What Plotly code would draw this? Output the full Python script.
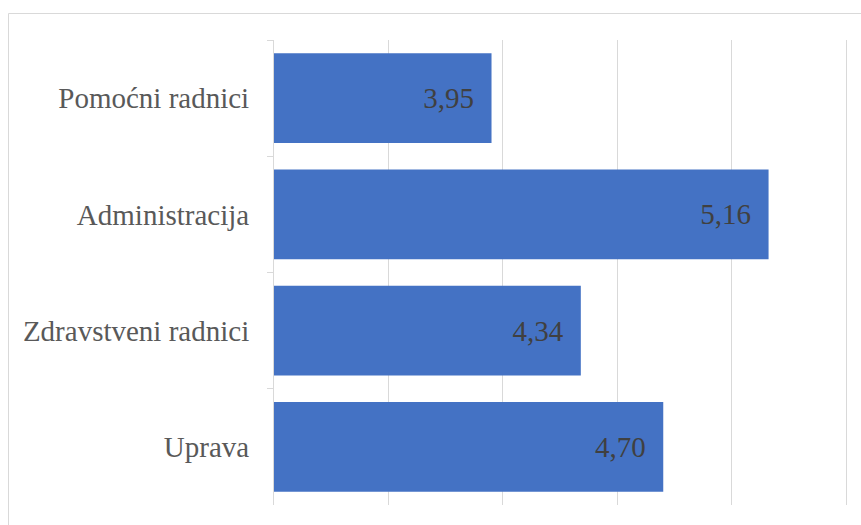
import plotly.graph_objects as go

categories = ["Pomoćni radnici", "Administracija", "Zdravstveni radnici", "Uprava"]
values = [3.95, 5.16, 4.34, 4.70]
labels = ["3,95", "5,16", "4,34", "4,70"]

W, H = 861, 525
ml, mr, mt, mb = 274, 10, 40, 20
pw, ph = W - ml - mr, H - mt - mb

FONT = "'Liberation Serif', 'Times New Roman', Times, serif"

fig = go.Figure(go.Bar(
    y=categories, x=values, orientation="h",
    marker=dict(color="#4472C4", line=dict(width=0)),
    text=[t + "\u00a0\u00a0" for t in labels],
    textposition="inside", insidetextanchor="end",
    textfont=dict(family=FONT, size=29, color="#404040"),
    cliponaxis=False, hoverinfo="skip",
))

# outer chart border (pixel positions converted to paper coords)
bx0, by0 = 8.5, 13.5
fig.add_shape(type="rect", xref="paper", yref="paper",
              x0=(bx0 - ml) / pw, x1=1.2,
              y0=-0.2, y1=(H - mb - by0) / ph,
              line=dict(color="#d9d9d9", width=1), fillcolor="rgba(0,0,0,0)", layer="below")

fig.update_layout(
    width=W, height=H,
    margin=dict(l=ml, r=mr, t=mt, b=mb, pad=0),
    paper_bgcolor="white", plot_bgcolor="white",
    bargap=0.23, showlegend=False,
    font=dict(family=FONT, size=29, color="#595959"),
    xaxis=dict(range=[3, 5.52], dtick=0.5, tick0=3, showgrid=True, gridcolor="#d9d9d9", gridwidth=1,
               showticklabels=False, zeroline=False, showline=False, ticks=""),
    yaxis=dict(autorange="reversed", showline=True, linecolor="#d9d9d9", linewidth=1,
               ticks="outside", tickson="boundaries", ticklen=6, tickcolor="#d9d9d9",
               showgrid=False, ticklabelstandoff=18,
               tickfont=dict(family=FONT, size=29, color="#595959")),
)

fig.write_html("out.html")
